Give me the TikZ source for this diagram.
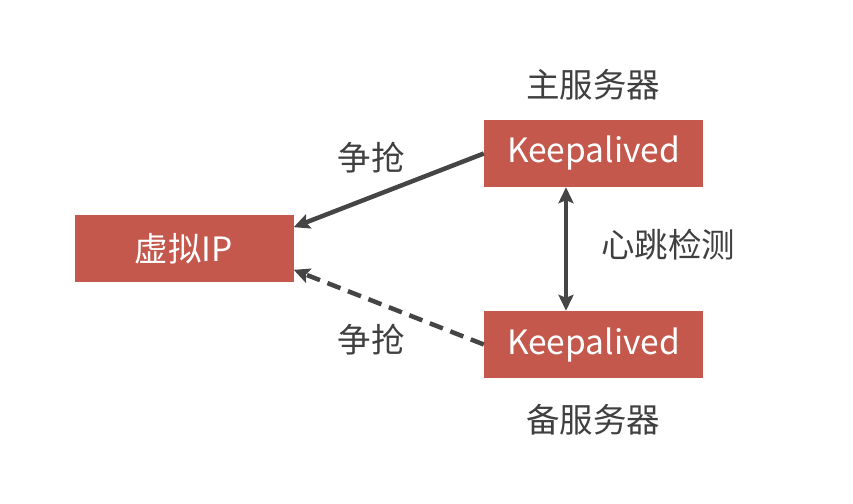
\documentclass[tikz,border=0pt]{standalone}
\usepackage{fontspec}
\setmainfont{Noto Sans CJK SC}
\usepackage{tikz}
\usetikzlibrary{arrows.meta}
\definecolor{boxred}{HTML}{C4584D}
\definecolor{linegray}{HTML}{454545}
\definecolor{textgray}{HTML}{404040}

\begin{document}
\begin{tikzpicture}[x=1pt, y=-1pt,
    box/.style={fill=boxred, text=white, minimum width=219pt, minimum height=67pt,
      inner sep=0pt, font=\fontsize{33.5}{33.5}\selectfont},
    lbl/.style={text=textgray, inner sep=0pt, font=\fontsize{33.5}{33.5}\selectfont},
    link/.style={draw=linegray, line width=4.5pt, -{Stealth[length=16pt, width=15pt, inset=3pt]}}]
    \useasboundingbox (0,0) rectangle (853,503);
    \node [box] (ip) at (184,248.5) {虚拟IP};
    \node [box] (master) at (593.5,153.5) {Keepalived};
    \node [box] (backup) at (593.5,344.5) {Keepalived};
    \node [lbl] (mastername) at (593,85) {主服务器};
    \node [lbl] (backupname) at (593,420) {备服务器};
    \node [lbl] (grab1) at (371,158) {争抢};
    \node [lbl] (grab2) at (371,340) {争抢};
    \node [lbl] (heartbeat) at (668,245) {心跳检测};
    \draw [link] (master.west) -- (ip.11);
    \draw [link, dash pattern=on 14pt off 8pt] (backup.west) -- (ip.-11);
    \draw [link, {Stealth[length=16pt, width=15pt, inset=3pt]}-{Stealth[length=16pt, width=15pt, inset=3pt]}]
      ([xshift=-27.5pt]master.south) -- ([xshift=-27.5pt]backup.north);
\end{tikzpicture}
\end{document}
